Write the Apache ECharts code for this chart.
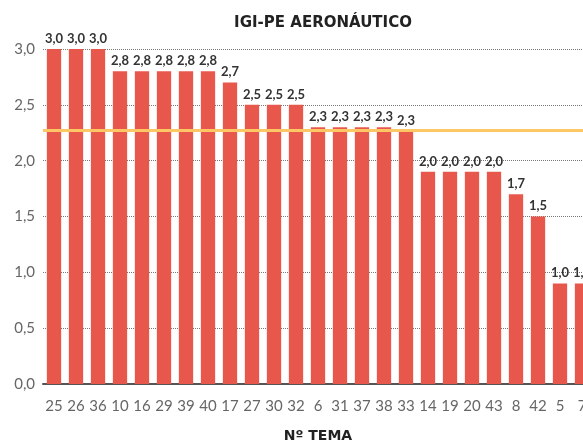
<!DOCTYPE html>
<html>
<head>
<meta charset="utf-8">
<script src="https://cdn.jsdelivr.net/npm/echarts@6/dist/echarts.min.js"></script>
<style>
    html, body {margin: 0; padding: 0; background: #fff; overflow: hidden;}
    #chart {width: 593px; height: 444px;}
</style>
</head>
<body>
<div id="chart"></div>
<script>
// nº tema
var temas = ['25', '26', '36', '10', '16', '29', '39', '40', '17', '27', '30', '32', '6',
    '31', '37', '38', '33', '14', '19', '20', '43', '8', '42', '5', '7'];
// bar heights
var valores = [3.0, 3.0, 3.0, 2.8, 2.8, 2.8, 2.8, 2.8, 2.7, 2.5, 2.5, 2.5, 2.3,
    2.3, 2.3, 2.3, 2.26, 1.9, 1.9, 1.9, 1.9, 1.7, 1.5, 0.9, 0.9];
// labels printed above the bars
var rotulos = ['3,0', '3,0', '3,0', '2,8', '2,8', '2,8', '2,8', '2,8', '2,7', '2,5', '2,5', '2,5', '2,3',
    '2,3', '2,3', '2,3', '2,3', '2,0', '2,0', '2,0', '2,0', '1,7', '1,5', '1,0', '1,0'];
var media = 2.27;

var myChart = echarts.init(document.getElementById('chart'));
option = {
    animation: false,
    title: {
        text: 'IGI-PE AERONÁUTICO',
        left: 318,
        top: 11,
        textAlign: 'center',
        textStyle: {
            fontFamily: 'DejaVu Sans',
            fontSize: 15,
            fontWeight: 'bold',
            color: '#222'
        }
    },
    grid: {
        left: 43,
        right: 0,
        top: 49,
        bottom: 60,
        outerBoundsMode: 'none'
    },
    xAxis: {
        type: 'category',
        data: temas,
        name: 'Nº TEMA',
        nameLocation: 'middle',
        nameGap: 45,
        nameTextStyle: {
            fontFamily: 'DejaVu Sans',
            fontSize: 14,
            fontWeight: 'bold',
            color: '#222'
        },
        axisTick: {show: false},
        axisLine: {lineStyle: {color: '#555', width: 2}},
        axisLabel: {
            interval: 0,
            margin: 15,
            fontFamily: 'Lato',
            fontSize: 15,
            color: '#666'
        }
    },
    yAxis: {
        type: 'value',
        min: 0,
        max: 3,
        interval: 0.5,
        axisLine: {show: false},
        axisTick: {show: false},
        axisLabel: {
            margin: 8,
            fontFamily: 'Lato',
            fontSize: 15,
            color: '#666',
            formatter: function (v) {
                return v.toFixed(1).replace('.', ',');
            }
        },
        splitLine: {lineStyle: {type: 'dotted', color: '#777', width: 1}}
    },
    series: [{
        type: 'bar',
        data: valores,
        barCategoryGap: '35%',
        itemStyle: {color: '#E8574C'},
        label: {
            show: true,
            position: 'top',
            distance: 4,
            fontFamily: 'Lato',
            fontWeight: 'bold',
            fontSize: 13,
            color: '#333',
            formatter: function (p) {
                return rotulos[p.dataIndex];
            }
        },
        markLine: {
            silent: true,
            symbol: 'none',
            label: {show: false},
            lineStyle: {type: 'solid', color: '#FDC765', width: 3},
            data: [{yAxis: media}]
        }
    }]
};
myChart.setOption(option);
</script>
</body>
</html>
